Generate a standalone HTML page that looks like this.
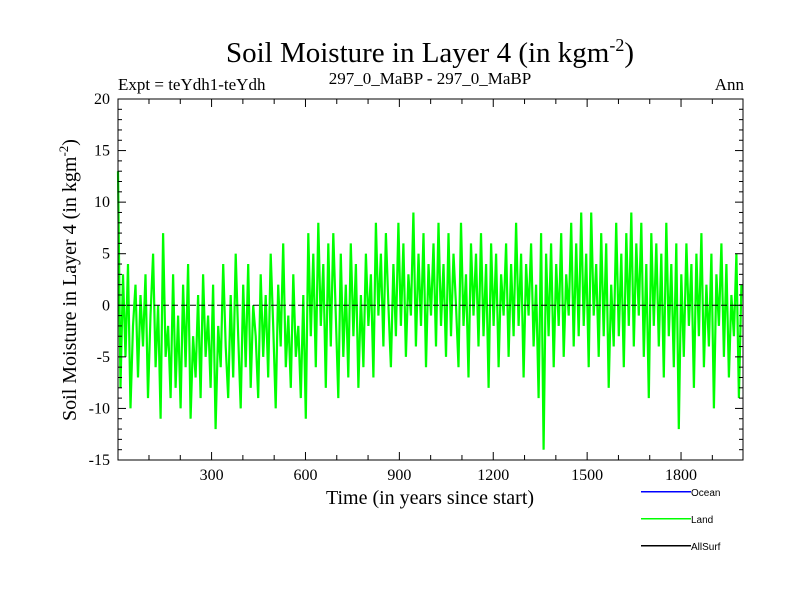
<!DOCTYPE html>
<html><head><meta charset="utf-8"><style>
body{margin:0;background:#fff}
svg text{font-family:"Liberation Serif",serif}
</style></head><body>
<svg id="c" width="800" height="600" xmlns="http://www.w3.org/2000/svg">
<text x="430" y="62" font-size="29" text-anchor="middle">Soil Moisture in Layer 4 (in kgm<tspan dy="-11" font-size="18">-2</tspan><tspan dy="11">)</tspan></text>
<text x="118" y="90" font-size="17">Expt = teYdh1-teYdh</text>
<text x="430" y="84" font-size="17" text-anchor="middle">297_0_MaBP - 297_0_MaBP</text>
<text x="744" y="90" font-size="17" text-anchor="end">Ann</text>
<text x="430" y="504" font-size="20" text-anchor="middle">Time (in years since start)</text>
<text transform="translate(76,280) rotate(-90)" font-size="20" text-anchor="middle">Soil Moisture in Layer 4 (in kgm<tspan dy="-8" font-size="13">-2</tspan><tspan dy="8">)</tspan></text>
<g id="plot"></g>
<g>
<rect x="641" y="491" width="50" height="1.5" fill="#0000ff"/>
<text x="691" y="496" font-size="10" style="font-family:'Liberation Sans',sans-serif">Ocean</text>
<rect x="641" y="518" width="50" height="1.5" fill="#00ff00"/>
<text x="691" y="523" font-size="10" style="font-family:'Liberation Sans',sans-serif">Land</text>
<rect x="641" y="545" width="50" height="1.5" fill="#000000"/>
<text x="691" y="550" font-size="10" style="font-family:'Liberation Sans',sans-serif">AllSurf</text>
</g>
</svg>
<script>
const xTicks=[300,600,900,1200,1500,1800];
const yTicks=[-15,-10,-5,0,5,10,15,20];
const step=8;
const land=[13,-8,3,-5,4,-10,-2,2,-7,1,-4,3,-9,-1,5,-6,0,-11,7,-5,-2,-9,3,-8,-1,
-10,2,-6,4,-11,-3,-7,1,-9,3,-5,-1,-8,2,-12,-2,-6,4,-4,-9,1,-7,5,-3,-10,
2,-6,4,-8,0,-3,-9,3,-5,1,-7,5,-2,-10,2,-4,6,-6,-1,-8,3,-5,-2,-9,1,
-11,7,-3,5,-6,8,-2,4,-8,6,-4,7,-1,-9,5,-5,2,-7,6,-3,4,-8,1,-6,5,
-2,3,-7,8,-1,5,-4,7,0,-6,4,-3,8,-2,6,-5,3,-1,9,-4,5,-2,7,-6,4,
-1,6,-4,8,-2,4,-5,7,-3,5,0,-6,8,-2,3,-7,6,-1,5,-4,7,-3,4,-8,6,
-2,5,-6,3,-1,6,-5,4,-3,8,-2,5,-7,4,-1,6,-4,2,-9,7,-14,5,-3,6,-6,
4,-2,7,-5,3,-1,8,-4,6,-3,9,-2,5,-6,9,-1,4,-5,7,-3,6,-8,2,-4,8,
-3,5,-6,7,-2,9,-4,6,-1,8,-5,4,-9,7,-2,6,-4,5,-7,8,-3,4,-6,6,-12,
3,-5,6,-2,4,-8,5,-3,7,-6,2,-4,5,-10,3,-2,6,-5,4,-7,1,-3,5,-9,2];
const L=118,R=743,T=99,B=460,x0=1,x1=1998,yMin=-15,yMax=20;
const X=v=>L+(v-x0)/(x1-x0)*(R-L);
const Y=v=>B-(v-yMin)/(yMax-yMin)*(B-T);
const NS='http://www.w3.org/2000/svg';
const g=document.getElementById('plot');
function mk(t,a){const e=document.createElementNS(NS,t);for(const k in a)e.setAttribute(k,a[k]);g.appendChild(e);return e;}
let d='';land.forEach((v,i)=>{d+=(i?'L':'M')+X(x0+i*step).toFixed(1)+','+Y(v).toFixed(1);});
const p=mk('path',{d:d,fill:'none',stroke:'#00ff00','stroke-width':2.2,'stroke-linejoin':'miter'});


const z=mk('line',{x1:L,x2:R,y1:Y(0),y2:Y(0),stroke:'#000','stroke-dasharray':'6,3'});


const f=mk('rect',{x:L,y:T,width:R-L,height:B-T,fill:'none',stroke:'#000'});


for(let yr=100;yr<=1900;yr+=100){const big=yr%300===0;const h=big?8:5;
mk('line',{x1:X(yr),x2:X(yr),y1:B,y2:B-h,stroke:'#000'});
mk('line',{x1:X(yr),x2:X(yr),y1:T,y2:T+h,stroke:'#000'});}
xTicks.forEach(v=>{const t=mk('text',{x:X(v),y:B+20,'font-size':16,'text-anchor':'middle'});t.textContent=v;

});
for(let v=yMin;v<=yMax;v++){const h=v%5===0?8:4;
mk('line',{x1:L,x2:L+h,y1:Y(v),y2:Y(v),stroke:'#000'});
mk('line',{x1:R,x2:R-h,y1:Y(v),y2:Y(v),stroke:'#000'});}
yTicks.forEach(v=>{const t=mk('text',{x:L-8,y:Y(v)+5,'font-size':16,'text-anchor':'end'});t.textContent=v;

});
</script>
</body></html>
